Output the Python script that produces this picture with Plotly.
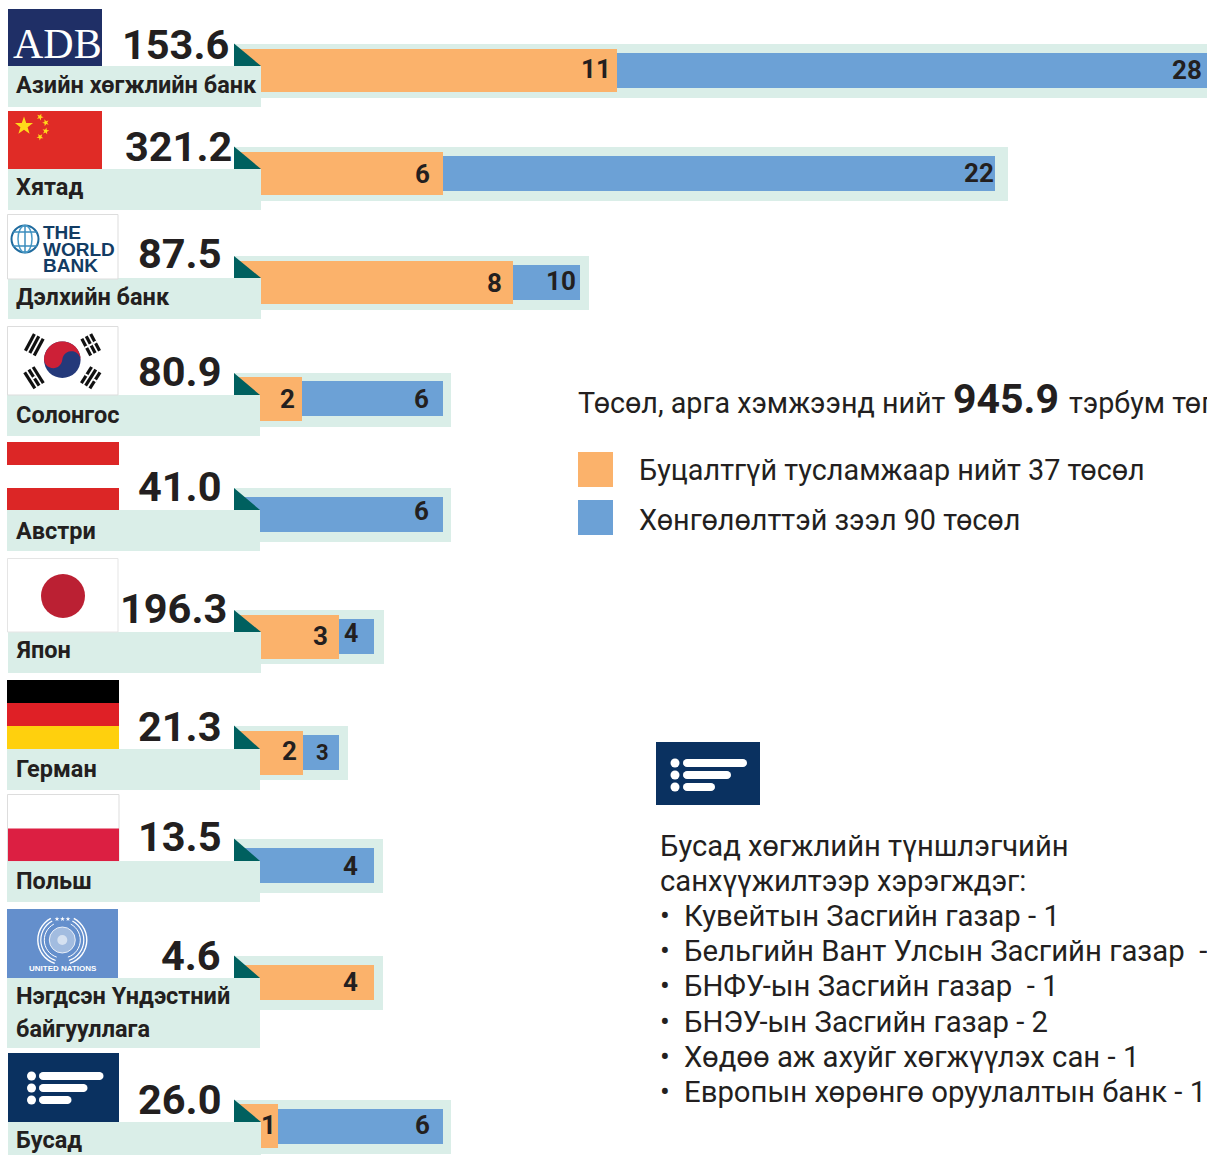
import numpy as np
import plotly.graph_objects as go

# ---------- data ----------
names = ["Азийн хөгжлийн банк", "Хятад", "Дэлхийн банк", "Солонгос", "Австри", "Япон",
         "Герман", "Польш", "Нэгдсэн Үндэстний", "Бусад"]
totals = ["153.6", "321.2", "87.5", "80.9", "41.0", "196.3", "21.3", "13.5", "4.6", "26.0"]
grant_counts = [11, 6, 8, 2, None, 3, 2, None, 4, 1]
loan_counts = [28, 22, 10, 6, 6, 4, 3, 4, None, 6]
# drawn lengths (the source is not to a linear scale)
grant_drawn = [356, 182, 252, 41, 0, 78, 42, 0, 113, 17]
loan_drawn = [590, 552, 67, 141, 182, 35, 36, 113, 0, 165]
band_drawn = [946, 747, 328, 190, 190, 123, 87, 122, 122, 190]

donors = ["Кувейтын Засгийн газар - 1", "Бельгийн Вант Улсын Засгийн газар  - 1",
          "БНФУ-ын Засгийн газар  - 1", "БНЭУ-ын Засгийн газар - 2",
          "Хөдөө аж ахуйг хөгжүүлэх сан - 1", "Европын хөрөнгө оруулалтын банк - 1"]

# ---------- layout ----------
W, H = 1207, 1155
ORIGIN, STUB = 261, 27
band_y = [70.5, 173.5, 283, 400, 515, 637, 752.5, 865.5, 982.5, 1126.5]
main_y = [70.5, 173.5, 282.5, 399, 515, 637, 753, 866, 982.5, 1126]
loan_y = [70, 173.5, 282.5, 398.5, 514.5, 636.5, 752.5, 865.5, 982.5, 1126.5]
grant_h = [43, 43, 43, 44, 0, 44, 44, 0, 35, 44]
box_l = [8, 8, 8, 7, 7, 8, 7, 7, 7, 8]
box_t = [66, 169, 278, 395, 510, 632, 749, 861, 978, 1122]
box_b = [107, 210, 319, 436, 551, 673, 790, 902, 1048, 1156]
name_y = [85, 187, 297, 415, 531, 650, 769, 881, 996, 1140]
total_r = [229, 232, 221, 221, 221, 227, 221, 221, 221, 221]
total_y = [44, 146, 253, 371, 486, 608, 726, 836, 955, 1099]
grant_tx = [611, 430, 502, 294.5, None, 328, 296.5, None, 358, 276]
grant_ty = [69, 174, 283, 399, None, 636, 751, None, 982, 1125]
loan_tx = [1202, 994, 576, 429, 429, 358, 329, 358, None, 430]
loan_ty = [70, 173, 281, 399, 511, 633, 752, 866, None, 1125]
loan_ts = [26, 26, 26, 26, 26, 25, 22, 26, 26, 26]

ORANGE, BLUE, BAND, TEAL = "#fbb26b", "#6ca1d6", "#daeee8", "#00605f"
INK, NAVY = "#231f20", "#0a3160"
FONT = "Roboto"

fig = go.Figure()
n = len(names)
bases = [ORIGIN - STUB] * n
fig.add_trace(go.Bar(orientation="h", y=band_y, base=bases,
                     x=[d + STUB for d in band_drawn], width=54,
                     marker=dict(color=BAND, line_width=0), hoverinfo="skip"))
g_x = [d + STUB if d else 0 for d in grant_drawn]
fig.add_trace(go.Bar(orientation="h", y=loan_y,
                     base=[ORIGIN + g if g else ORIGIN - STUB for g in grant_drawn],
                     x=[d + (0 if g else STUB) if d else 0 for d, g in zip(loan_drawn, grant_drawn)],
                     width=35, marker=dict(color=BLUE, line_width=0), hoverinfo="skip"))
fig.add_trace(go.Bar(orientation="h", y=main_y, base=bases, x=g_x, width=grant_h,
                     marker=dict(color=ORANGE, line_width=0), hoverinfo="skip"))

shapes, ann = [], []


def rect(x0, y0, x1, y1, fill, line=None, layer="above"):
    shapes.append(dict(type="rect", x0=x0, y0=y0, x1=x1, y1=y1, fillcolor=fill, layer=layer,
                       line=dict(color=line or fill, width=1 if line else 0)))


def poly(pts, fill=None, line=None, width=1, close=True):
    p = "M" + " L".join(f"{a:.2f},{b:.2f}" for a, b in pts) + (" Z" if close else "")
    shapes.append(dict(type="path", path=p, fillcolor=fill or "rgba(0,0,0,0)", layer="above",
                       line=dict(color=line or "rgba(0,0,0,0)", width=width if line else 0)))


def circle(cx, cy, r, fill=None, line=None, width=1):
    shapes.append(dict(type="circle", x0=cx - r, x1=cx + r, y0=cy - r, y1=cy + r, layer="above",
                       fillcolor=fill or "rgba(0,0,0,0)",
                       line=dict(color=line or "rgba(0,0,0,0)", width=width if line else 0)))


def star(cx, cy, R, fill="#ffd91a", rot=0.0):
    pts = []
    for k in range(10):
        rr = R if k % 2 == 0 else R * 0.4
        a = -np.pi / 2 + rot + k * np.pi / 5
        pts.append((cx + rr * np.cos(a), cy + rr * np.sin(a)))
    poly(pts, fill=fill)


def txt(x, y, s, size, color=INK, bold=False, anchor="left", family=FONT):
    ann.append(dict(x=x, y=y, text=s, showarrow=False, xanchor=anchor, yanchor="middle", borderpad=0,
                    borderwidth=0, font=dict(family=family, size=size, color=color,
                                             weight=700 if bold else 400)))


def pill(x0, x1, cy, h, fill="white"):
    r = h / 2
    t = np.linspace(-np.pi / 2, np.pi / 2, 9)
    right = [(x1 - r + r * np.cos(a), cy + r * np.sin(a)) for a in t]
    left = [(x0 + r - r * np.cos(a), cy - r * np.sin(a)) for a in t]
    poly(right + left, fill=fill)


def list_icon(x0, y0, x1, y1, dot_x, ys, r, bx, ends, h):
    rect(x0, y0, x1, y1, NAVY)
    for yy, e in zip(ys, ends):
        circle(dot_x, yy, r, fill="white")
        pill(bx, e, yy, h)


# label boxes, triangles, names, totals
for i in range(n):
    rect(box_l[i], box_t[i], ORIGIN - (box_l[i] == 7), box_b[i], BAND)
    tl = ORIGIN - STUB
    poly([(tl, band_y[i] - 27), (ORIGIN - (box_l[i] == 7), box_t[i]), (tl, box_t[i])], fill=TEAL)
    txt(15.5, name_y[i], names[i], 23.5, bold=True)
    txt(total_r[i], total_y[i], totals[i], 41.5, bold=True, anchor="right")
    if grant_counts[i] is not None:
        txt(grant_tx[i], grant_ty[i], str(grant_counts[i]), 26, bold=True, anchor="right")
    if loan_counts[i] is not None:
        txt(loan_tx[i], loan_ty[i], str(loan_counts[i]), loan_ts[i], bold=True, anchor="right")
txt(15.5, 1029, "байгууллага", 23.5, bold=True)

# ADB
rect(8, 9, 102, 66, "#1f2f66")
txt(57, 44, "ADB", 42, color="white", anchor="center", family="Liberation Serif")

# China
rect(8, 111, 102, 169, "#e02b26")
star(24, 126, 9.5)
for sx, sy, rot in [(40, 117, 0.4), (45.7, 122.7, 0.9), (45.7, 131, 0.2), (40, 137, 0.7)]:
    star(sx, sy, 3.6, rot=rot)

# World Bank
rect(7.5, 214.5, 118, 279, "white", line="#dddddd")
circle(25, 239, 13.5, line="#1f6b9e", width=2)
shapes.append(dict(type="circle", x0=18, x1=32, y0=225.5, y1=252.5, layer="above",
                   line=dict(color="#4a9bc8", width=1.5)))
for yy in (232, 246):
    poly([(13, yy), (37, yy)], line="#3b8dbd", width=1.5, close=False)
poly([(25, 225.5), (25, 252.5)], line="#3b8dbd", width=1.5, close=False)
for yy, s in zip((232, 249, 265), ("THE", "WORLD", "BANK")):
    txt(43, yy, s, 19, color="#123c64", bold=True, family="Liberation Sans")

# Korea
rect(7.5, 326.5, 118, 395, "white", line="#dddddd")
cx, cy, r = 62.3, 359.7, 18.3
circle(cx, cy, r, fill="#24397a")
tilt = np.radians(4)
ux, uy = np.cos(tilt), np.sin(tilt)
vx, vy = uy, -ux
th = np.linspace(np.pi + tilt, 2 * np.pi + tilt, 30)
outer = [(cx + r * np.cos(a), cy + r * np.sin(a)) for a in th]
t1 = np.linspace(0, np.pi, 14)
s1 = [(cx + r / 2 * ux + r / 2 * (ux * np.cos(a) + vx * np.sin(a)),
       cy + r / 2 * uy + r / 2 * (uy * np.cos(a) + vy * np.sin(a))) for a in t1]
s2 = [(cx - r / 2 * ux + r / 2 * (ux * np.cos(a) - vx * np.sin(a)),
       cy - r / 2 * uy + r / 2 * (uy * np.cos(a) - vy * np.sin(a))) for a in t1]
poly(outer + s1 + s2, fill="#cd2037")
for (tx, ty), gaps in zip([(34.3, 344.7), (90.7, 344.7), (34, 377.7), (90.7, 377.7)],
                          [(0, 0, 0), (1, 1, 1), (0, 1, 0), (1, 0, 1)]):
    dx, dy = np.array([tx - cx, ty - cy]) / np.hypot(tx - cx, ty - cy)
    px, py = -dy, dx
    for k, off in enumerate((-5, 0, 5)):
        mx, my = tx + dx * off, ty + dy * off
        L = 9.5
        poly([(mx - px * L, my - py * L), (mx + px * L, my + py * L)], line="#111111", width=3.2, close=False)
        if gaps[k]:
            poly([(mx - px * 1, my - py * 1), (mx + px * 1, my + py * 1)], line="white", width=3.8, close=False)

# Austria
rect(7, 442, 119, 465, "#dc2626")
rect(7, 488, 119, 510, "#dc2626")

# Japan
rect(7.5, 558.5, 118, 632, "white", line="#e5e5e5")
circle(63, 596, 22, fill="#bb2033")

# Germany
rect(7, 680, 119, 703, "#000000")
rect(7, 703, 119, 726, "#df2026")
rect(7, 726, 119, 749, "#ffd00d")

# Poland
rect(7.5, 794.5, 119, 861, "white", line="#dddddd")
rect(8, 828.5, 119, 861, "#dc1f42")

# United Nations
rect(7, 909, 118, 978, "#648fcc")
ucx, ucy = 62.3, 940
circle(ucx, ucy, 13, fill="rgba(255,255,255,0.4)", line="rgba(255,255,255,0.8)", width=1)
circle(ucx, ucy, 5, fill="rgba(255,255,255,0.55)")
for rw, wd in ((24.5, 1.4), (21.5, 1.2), (18, 1)):
    for side in (-1, 1):
        ang2 = np.radians(np.linspace(-62, 72, 16))
        poly([(ucx + side * rw * np.cos(a), ucy + rw * np.sin(a)) for a in ang2],
             line="white", width=wd, close=False)
for sx in (57, 62.5, 68):
    star(sx, 919, 2.5, fill="white")
txt(62.5, 968, "UNITED NATIONS", 8, color="white", bold=True, anchor="center", family="Liberation Sans")

# "Other" icons
list_icon(8, 1053, 119, 1122, 31.5, (1076, 1088, 1100), 4.5, 39, (103.5, 87.5, 71.5), 8)
list_icon(656, 742, 760, 805, 675, (763, 775, 787), 4.5, 683, (747, 731, 715), 8)

# headline + legend
txt(578, 402.5, "Төсөл, арга хэмжээнд нийт", 28.7)
txt(953, 398.5, "945.9", 41, bold=True)
txt(1069, 402.5, "тэрбум төгрөг", 28.7)
rect(578, 452, 613, 487, ORANGE)
rect(578, 500, 613, 535, BLUE)
txt(638.5, 470, "Буцалтгүй тусламжаар нийт 37 төсөл", 28.8)
txt(638.5, 520, "Хөнгөлөлттэй зээл 90 төсөл", 28.8)

# donors list
txt(659.5, 845.5, "Бусад хөгжлийн түншлэгчийн", 29.2)
txt(659.5, 880.5, "санхүүжилтээр хэрэгждэг:", 29.2)
for yy, d in zip((916, 951, 986, 1022, 1057, 1092), donors):
    txt(659.5, yy, "•", 29)
    txt(683.5, yy, d, 29.3)

fig.update_layout(
    width=W, height=H, autosize=False, margin=dict(l=0, r=0, t=0, b=0),
    paper_bgcolor="white", plot_bgcolor="white", showlegend=False, barmode="overlay", bargap=0,
    xaxis=dict(range=[0, W], visible=False, fixedrange=True),
    yaxis=dict(range=[H, 0], visible=False, fixedrange=True),
    shapes=shapes, annotations=ann, font=dict(family=FONT),
)
fig.write_html("out.html", config=dict(displayModeBar=False),
               post_script="document.body.style.margin='0';document.body.style.overflow='hidden';")
